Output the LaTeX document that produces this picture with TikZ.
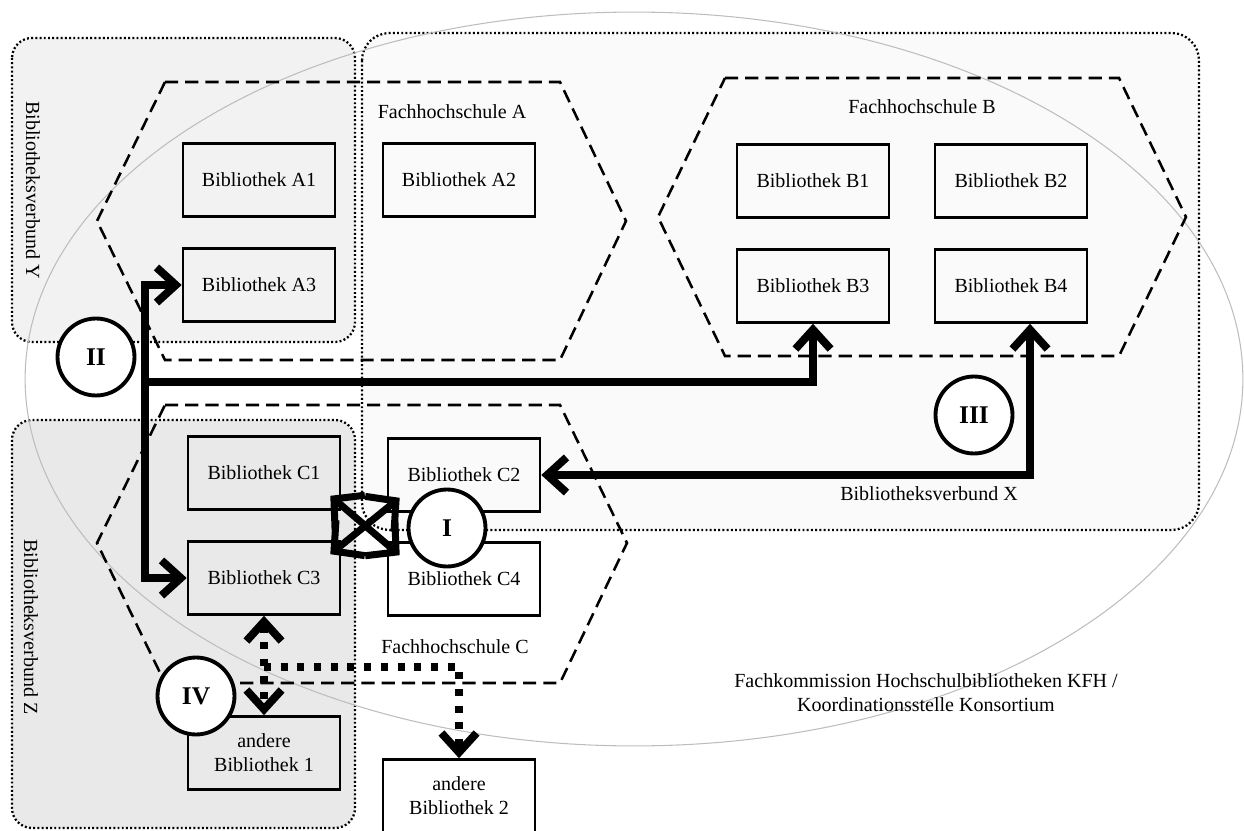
\documentclass[tikz,border=0pt]{standalone}
\usepackage{fontspec}
\setmainfont{Liberation Serif}
\usetikzlibrary{arrows.meta}

\definecolor{fillY}{HTML}{F2F2F2}
\definecolor{fillX}{HTML}{FAFAFA}
\definecolor{fillZ}{HTML}{E9E9E9}
\definecolor{kfhline}{HTML}{BDBDBD}

\tikzset{
  bib/.style={draw, line width=1.5pt, minimum width=3.04cm, minimum height=1.46cm, inner sep=0pt, align=center},
  hochschule/.style={line width=1.45pt, dash pattern=on 7.5pt off 4pt},
  verbund/.style={line width=1.3pt, dash pattern=on 1.1pt off 1.3pt},
  stufe/.style={circle, draw, fill=white, line width=2.2pt, minimum size=1.54cm, inner sep=0pt, font=\fontsize{14.5}{16}\selectfont\bfseries},
  weg/.style={line width=4.5pt, >={Straight Barb[length=11pt,width=20pt]}},
  kreuzweg/.style={line width=4pt, >={Straight Barb[length=12pt,width=26pt]}},
  punktweg/.style={weg, dash pattern=on 4pt off 5.5pt},
}

\begin{document}
\begin{tikzpicture}[x=0.02cm, y=-0.02cm, font=\fontsize{11.4}{13.5}\selectfont]
    \useasboundingbox (0,0) rectangle (1244,831);

    % Verbuende Y, X, Z
    \draw[verbund, fill=fillY, rounded corners=0.4cm] (12,38) rectangle (355,342);
    \draw[verbund, fill=fillX, rounded corners=0.55cm] (362,33) rectangle (1199,530);
    \draw[verbund, fill=fillZ, rounded corners=0.4cm] (12,420) rectangle (355,828);
    \node[rotate=-90] (verbundY) at (33,190) {Bibliotheksverbund Y};
    \node (verbundX) at (929,494) {Bibliotheksverbund X};
    \node[rotate=-90] (verbundZ) at (31,627) {Bibliotheksverbund Z};

    % KFH
    \draw[kfhline, line width=0.6pt] (634,379) ellipse [x radius=12.18cm, y radius=7.34cm];
    \node[align=center] (kfh) at (926,693) {Fachkommission Hochschulbibliotheken KFH /\\Koordinationsstelle Konsortium};

    % Fachhochschule A
    \draw[hochschule] (165,82) -- (560,82) -- (626,221) -- (560,360) -- (165,360) -- (97,221) -- cycle;
    \node (fhA) at (452,112) {Fachhochschule A};
    \node[bib] (a1) at (259,180) {Bibliothek A1};
    \node[bib] (a2) at (459,180) {Bibliothek A2};
    \node[bib] (a3) at (259,285) {Bibliothek A3};

    % Fachhochschule B
    \draw[hochschule] (725,78) -- (1119,78) -- (1186,217) -- (1119,356) -- (725,356) -- (658,217) -- cycle;
    \node (fhB) at (922,107) {Fachhochschule B};
    \node[bib] (b1) at (813,181) {Bibliothek B1};
    \node[bib] (b2) at (1011,181) {Bibliothek B2};
    \node[bib] (b3) at (813,286) {Bibliothek B3};
    \node[bib] (b4) at (1011,286) {Bibliothek B4};

    % Fachhochschule C
    \draw[hochschule] (165,405) -- (560,405) -- (627,543) -- (560,683) -- (165,683) -- (97,543) -- cycle;
    \node (fhC) at (455,647) {Fachhochschule C};
    \node[bib] (c1) at (264,473) {Bibliothek C1};
    \node[bib] (c2) at (464,475) {Bibliothek C2};
    \node[bib] (c3) at (264,578) {Bibliothek C3};
    \node[bib] (c4) at (464,579) {Bibliothek C4};

    % andere Bibliotheken
    \node[bib] (andere1) at (264,753) {andere\\Bibliothek 1};
    \node[bib] (andere2) at (459,796) {andere\\Bibliothek 2};

    % I - innerhalb der Fachhochschule
    \draw[kreuzweg,<->] ([shift={(-11,-15)}]c1.south east) -- ([shift={(13,14)}]c4.north west);
    \draw[kreuzweg,<->] ([shift={(-11,14)}]c3.north east) -- ([shift={(13,-15)}]c2.south west);

    % II - innerhalb eines Verbunds
    \coordinate (stammII) at (145,382);
    \draw[weg,<->] (a3.west) -- (a3.west -| stammII) -- (c3.west -| stammII) -- (c3.west);
    \draw[weg,->] (stammII) -- (stammII -| b3.south) -- (b3.south);

    % III - ueber Verbundgrenzen
    \coordinate (knickIII) at (1030,475);
    \draw[weg,<->] (c2.east) -- (knickIII) -- (knickIII |- b4.south);

    % IV - andere Bibliotheken
    \draw[punktweg,<->] (c3.south) -- (andere1.north);
    \coordinate (abzweigIV) at (264,667);
    \draw[punktweg,->] (abzweigIV) -- (abzweigIV -| andere2.north) -- (andere2.north);

    % Stufen
    \node[stufe] (stufeI) at (447,528) {I};
    \node[stufe] (stufeII) at (96,357) {II};
    \node[stufe] (stufeIII) at (974,415) {III};
    \node[stufe] (stufeIV) at (196,696) {IV};
\end{tikzpicture}
\end{document}
